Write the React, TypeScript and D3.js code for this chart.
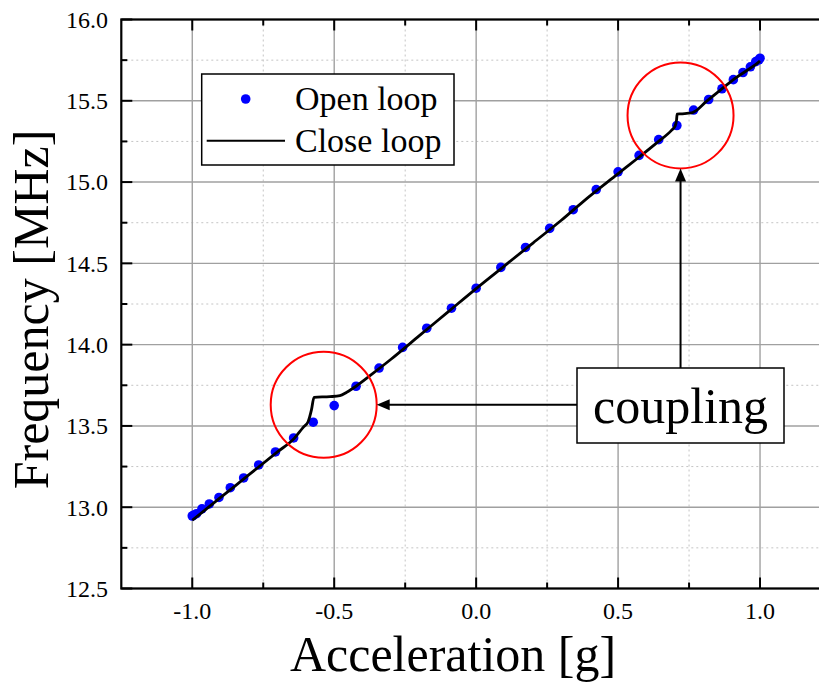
import React from "react";
import * as d3 from "d3";

// Open loop measurements (acceleration [g], frequency [MHz])
const openAccel = [
  -1.0, -0.996, -0.985, -0.966, -0.94, -0.906, -0.866, -0.819, -0.766, -0.707,
  -0.643, -0.574, -0.5, -0.423, -0.342, -0.259, -0.174, -0.087, 0.0, 0.087,
  0.174, 0.259, 0.342, 0.423, 0.5, 0.574, 0.643, 0.707, 0.766, 0.819, 0.866,
  0.906, 0.94, 0.966, 0.985, 0.996, 1.0,
];
const openFreq = [
  12.946, 12.95, 12.96, 12.99, 13.02, 13.06, 13.12, 13.18, 13.26, 13.34,
  13.426, 13.523, 13.625, 13.744, 13.856, 13.983, 14.101, 14.224, 14.347, 14.475,
  14.598, 14.715, 14.83, 14.954, 15.063, 15.164, 15.261, 15.348, 15.443, 15.508, 15.574,
  15.63, 15.674, 15.709, 15.741, 15.752, 15.762,
];

// Close loop trace
const closeAccel = [
  -1.0, -0.9, -0.8, -0.7, -0.64, -0.61, -0.592, -0.58, -0.571, -0.515, -0.48,
  -0.456, -0.421, -0.374, -0.3, -0.2, -0.1, 0.0, 0.1, 0.2, 0.3, 0.377, 0.496,
  0.57, 0.635, 0.688, 0.7, 0.706, 0.708, 0.72, 0.758, 0.77, 0.811, 0.858, 0.905,
  0.993, 1.0,
];
const closeFreq = [
  12.92, 13.06, 13.2, 13.34, 13.425, 13.49, 13.526, 13.6, 13.676, 13.68, 13.686,
  13.707, 13.747, 13.809, 13.91, 14.055, 14.2, 14.345, 14.485, 14.625, 14.765, 14.88, 15.046,
  15.148, 15.24, 15.318, 15.342, 15.383, 15.418, 15.42, 15.425, 15.434, 15.496, 15.563, 15.629,
  15.735, 15.745,
];

const xMajor = [-1.0, -0.5, 0.0, 0.5, 1.0];
const xMinor = [-0.75, -0.25, 0.25, 0.75];
const yMajor = [12.5, 13.0, 13.5, 14.0, 14.5, 15.0, 15.5, 16.0];
const yMinor = [12.75, 13.25, 13.75, 14.25, 14.75, 15.25, 15.75];

// coupling regions (centre in data units)
const couplingAccel = [-0.537, 0.72];
const couplingFreq = [13.63, 15.41];

const W = 819;
const H = 684;
const FONT = "'Liberation Serif', 'Times New Roman', serif";
const fmt = (v: number) => v.toFixed(1);

export default function App() {
  const x = d3.scaleLinear().domain([-1.25, 1.25]).range([121.3, 831]);
  const y = d3.scaleLinear().domain([12.5, 16.0]).range([588.5, 19.5]);
  const left = x(-1.25);
  const right = x(1.25);
  const top = y(16.0);
  const bottom = y(12.5);

  const closeData = closeAccel.map((a, i) => [a, closeFreq[i]] as [number, number]);
  const lineGen = d3
    .line<[number, number]>()
    .x((d) => x(d[0]))
    .y((d) => y(d[1]))
    .curve(d3.curveMonotoneX);

  const R = 53;
  const c0 = { cx: x(couplingAccel[0]), cy: y(couplingFreq[0]) };
  const c1 = { cx: x(couplingAccel[1]), cy: y(couplingFreq[1]) };

  const box = { x: 577, y: 368, w: 207, h: 75 };
  const hArrowY = c0.cy;
  const hTip = c0.cx + R;
  const vX = c1.cx;
  const vTip = c1.cy + R;

  return (
    <div style={{ position: "absolute", left: 0, top: 0 }}>
      <svg width={W} height={H} style={{ display: "block", background: "#fff" }}>
        <rect x={0} y={0} width={W} height={H} fill="#fff" />
        {/* grid */}
        {xMinor.map((v) => (
          <line key={"xm" + v} x1={x(v)} x2={x(v)} y1={top} y2={bottom} stroke="#c4c4c4" strokeWidth={1} strokeDasharray="2,3" />
        ))}
        {yMinor.map((v) => (
          <line key={"ym" + v} x1={left} x2={right} y1={y(v)} y2={y(v)} stroke="#c4c4c4" strokeWidth={1} strokeDasharray="2,3" />
        ))}
        {xMajor.map((v) => (
          <line key={"xM" + v} x1={x(v)} x2={x(v)} y1={top} y2={bottom} stroke="#a0a0a0" strokeWidth={1.4} />
        ))}
        {yMajor.map((v) => (
          <line key={"yM" + v} x1={left} x2={right} y1={y(v)} y2={y(v)} stroke="#a0a0a0" strokeWidth={1.4} />
        ))}

        {/* open loop points */}
        {openAccel.map((a, i) => (
          <circle key={"p" + i} cx={x(a)} cy={y(openFreq[i])} r={4.8} fill="#0000ff" />
        ))}
        {/* close loop */}
        <path d={lineGen(closeData) || ""} fill="none" stroke="#000" strokeWidth={2.8} strokeLinejoin="round" />

        {/* frame */}
        <rect x={left} y={top} width={right - left} height={bottom - top} fill="none" stroke="#000" strokeWidth={2.2} />
        {/* ticks */}
        {xMajor.map((v) => (
          <g key={"xt" + v}>
            <line x1={x(v)} x2={x(v)} y1={top} y2={top + 11} stroke="#000" strokeWidth={2} />
            <line x1={x(v)} x2={x(v)} y1={bottom} y2={bottom - 11} stroke="#000" strokeWidth={2} />
            <text x={x(v)} y={619} textAnchor="middle" fontFamily={FONT} fontSize={24} fill="#000">
              {fmt(v)}
            </text>
          </g>
        ))}
        {xMinor.map((v) => (
          <g key={"xtm" + v}>
            <line x1={x(v)} x2={x(v)} y1={top} y2={top + 6} stroke="#000" strokeWidth={2} />
            <line x1={x(v)} x2={x(v)} y1={bottom} y2={bottom - 6} stroke="#000" strokeWidth={2} />
          </g>
        ))}
        {yMajor.map((v) => (
          <g key={"yt" + v}>
            <line x1={left} x2={left + 11} y1={y(v)} y2={y(v)} stroke="#000" strokeWidth={2} />
            <line x1={right} x2={right - 11} y1={y(v)} y2={y(v)} stroke="#000" strokeWidth={2} />
            <text x={108} y={y(v)} dy="0.35em" textAnchor="end" fontFamily={FONT} fontSize={24} fill="#000">
              {fmt(v)}
            </text>
          </g>
        ))}
        {yMinor.map((v) => (
          <g key={"ytm" + v}>
            <line x1={left} x2={left + 6} y1={y(v)} y2={y(v)} stroke="#000" strokeWidth={2} />
            <line x1={right} x2={right - 6} y1={y(v)} y2={y(v)} stroke="#000" strokeWidth={2} />
          </g>
        ))}

        {/* axis titles */}
        <text x={453} y={671} textAnchor="middle" fontFamily={FONT} fontSize={50} fill="#000">
          Acceleration [g]
        </text>
        <text transform="translate(48,309.5) rotate(-90)" textAnchor="middle" fontFamily={FONT} fontSize={50} fill="#000">
          Frequency [MHz]
        </text>

        {/* legend */}
        <rect x={201.7} y={74} width={252.3} height={91} fill="#fff" stroke="#000" strokeWidth={1.5} />
        <circle cx={245.7} cy={99} r={4.8} fill="#0000ff" />
        <text x={295} y={110} fontFamily={FONT} fontSize={34} fill="#000">Open loop</text>
        <line x1={206.7} x2={285} y1={140.7} y2={140.7} stroke="#000" strokeWidth={2} />
        <text x={295} y={152} fontFamily={FONT} fontSize={34} fill="#000">Close loop</text>

        {/* coupling circles */}
        <circle cx={c0.cx} cy={c0.cy} r={R} fill="none" stroke="#ff0000" strokeWidth={2} />
        <circle cx={c1.cx} cy={c1.cy} r={R} fill="none" stroke="#ff0000" strokeWidth={2} />

        {/* arrows */}
        <line x1={box.x} x2={hTip + 12} y1={hArrowY} y2={hArrowY} stroke="#000" strokeWidth={2} />
        <polygon points={`${hTip},${hArrowY} ${hTip + 13},${hArrowY - 5.5} ${hTip + 13},${hArrowY + 5.5}`} fill="#000" />
        <line x1={vX} x2={vX} y1={box.y} y2={vTip + 12} stroke="#000" strokeWidth={2} />
        <polygon points={`${vX},${vTip} ${vX - 5.5},${vTip + 13} ${vX + 5.5},${vTip + 13}`} fill="#000" />

        {/* coupling label */}
        <rect x={box.x} y={box.y} width={box.w} height={box.h} fill="#fff" stroke="#000" strokeWidth={1.5} />
        <text x={box.x + box.w / 2} y={423} textAnchor="middle" fontFamily={FONT} fontSize={50} fill="#000">
          coupling
        </text>
      </svg>
    </div>
  );
}
